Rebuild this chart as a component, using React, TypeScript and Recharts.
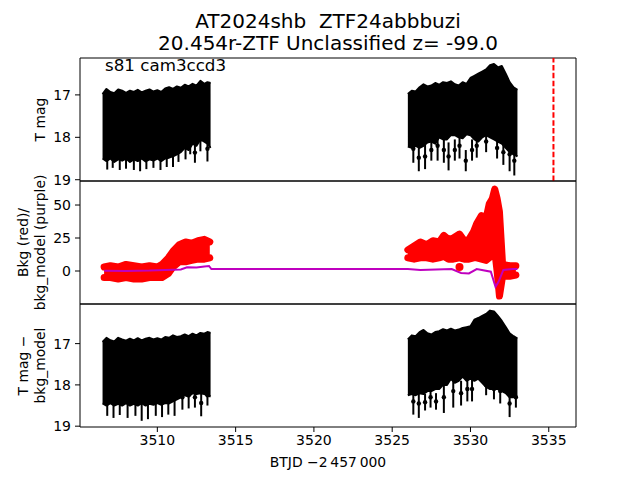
import { ComposedChart, Area, Line, Scatter, ErrorBar, XAxis, YAxis, ReferenceLine, ReferenceArea } from 'recharts';

const FONT = '"DejaVu Sans", sans-serif';

// x axis (BTJD - 2457000)
const X_DOMAIN = [3505.06, 3536.74];
const X_TICKS = [3510, 3515, 3520, 3525, 3530, 3535];
const ALERT_T = 3535.3;

// sampling times of the cloud envelopes (orbit 1 and orbit 2)
const T1 = [3506.5, 3506.75, 3507.0, 3507.25, 3507.5, 3507.75, 3508.0, 3508.25, 3508.5, 3508.75, 3509.0, 3509.25, 3509.5, 3509.75, 3510.0, 3510.25, 3510.5, 3510.75, 3511.0, 3511.25, 3511.5, 3511.75, 3512.0, 3512.25, 3512.5, 3512.75, 3513.0, 3513.2, 3513.4];
const T2 = [3526.0, 3526.25, 3526.5, 3526.75, 3527.0, 3527.25, 3527.5, 3527.75, 3528.0, 3528.25, 3528.5, 3528.75, 3529.0, 3529.25, 3529.5, 3529.75, 3530.0, 3530.25, 3530.5, 3530.75, 3531.0, 3531.25, 3531.5, 3531.75, 3532.0, 3532.25, 3532.5, 3532.75, 3533.0];

// --- top panel: T mag (bright / faint edge of the dense errorbar cloud) ---
const TOP_UP1 = [16.98, 16.86, 16.93, 16.96, 16.87, 16.9, 16.95, 16.9, 16.93, 16.88, 16.94, 16.9, 16.87, 16.92, 16.89, 16.93, 16.85, 16.82, 16.86, 16.8, 16.83, 16.76, 16.8, 16.74, 16.78, 16.67, 16.74, 16.7, 16.72];
const TOP_DN1 = [18.5, 18.56, 18.5, 18.58, 18.52, 18.55, 18.5, 18.58, 18.52, 18.56, 18.5, 18.57, 18.52, 18.55, 18.5, 18.56, 18.5, 18.48, 18.45, 18.4, 18.35, 18.25, 18.3, 18.15, 18.2, 18.05, 18.1, 18.15, 18.25];
const TOP_UP2 = [16.98, 16.9, 16.92, 16.82, 16.75, 16.8, 16.78, 16.72, 16.76, 16.7, 16.72, 16.68, 16.75, 16.78, 16.7, 16.74, 16.6, 16.55, 16.5, 16.45, 16.4, 16.3, 16.27, 16.35, 16.32, 16.5, 16.7, 16.82, 16.88];
const TOP_DN2 = [18.22, 18.25, 18.2, 18.25, 18.2, 18.12, 18.1, 18.15, 18.0, 18.05, 18.05, 17.95, 17.95, 18.0, 18.02, 17.93, 17.95, 18.05, 18.1, 18.0, 17.95, 18.0, 18.05, 18.1, 18.15, 18.25, 18.35, 18.4, 18.45];
// [t, mag, err] faint points poking out below the cloud
const TOP_SPIKES = [
  [3506.8, 18.3, 0.46], [3507.15, 18.3, 0.42], [3507.6, 18.3, 0.47], [3508.0, 18.3, 0.44],
  [3508.5, 18.3, 0.47], [3508.9, 18.3, 0.5], [3509.3, 18.3, 0.45], [3509.75, 18.3, 0.42],
  [3510.2, 18.3, 0.47], [3510.6, 18.3, 0.4], [3511.0, 18.3, 0.4], [3511.35, 18.3, 0.28],
  [3511.8, 18.2, 0.32], [3512.1, 18.1, 0.3], [3512.4, 18.36, 0.24], [3512.75, 18.05, 0.28],
  [3513.2, 18.27, 0.3],
  [3526.35, 18.27, 0.33], [3526.7, 18.48, 0.32], [3527.1, 18.45, 0.3], [3527.5, 18.3, 0.25],
  [3527.9, 18.2, 0.35], [3528.3, 18.3, 0.3], [3528.6, 18.45, 0.33], [3529.0, 18.3, 0.25],
  [3529.3, 18.2, 0.3], [3529.7, 18.55, 0.25], [3530.1, 18.3, 0.25], [3530.4, 18.2, 0.28],
  [3531.0, 18.1, 0.25], [3531.7, 18.25, 0.25], [3532.1, 18.35, 0.3], [3532.5, 18.4, 0.4],
  [3532.8, 18.55, 0.35],
];

// --- middle panel: background flux (red) and model (purple) ---
const BKG_T1 = [3506.6, 3507.0, 3507.5, 3508.0, 3508.5, 3509.0, 3509.5, 3510.0, 3510.3, 3510.7, 3511.0, 3511.4, 3511.8, 3512.2, 3512.6, 3513.0, 3513.35];
const BKG_HI1 = [3, 4, 3, 5, 4, 3, 4, 3, 5, 10, 15, 20, 22, 21, 23, 24, 22];
const BKG_LO1 = [-5, -5, -6, -5, -6, -6, -5, -5, -5, -2, 3, 7, 7, 8, 9, 9, 10];
const BKG_T2 = [3526.0, 3526.4, 3526.8, 3527.2, 3527.6, 3528.0, 3528.3, 3528.6, 3528.9, 3529.3, 3529.6, 3529.9, 3530.2, 3530.4, 3530.7, 3531.0, 3531.2, 3531.4, 3531.55, 3531.7, 3531.85, 3532.05, 3532.5, 3532.9];
const BKG_HI2 = [16, 19, 22, 20, 23, 22, 27, 24, 25, 28, 23, 24, 30, 36, 42, 40, 51, 55, 62, 55, 45, 5, 4, 4];
const BKG_LO2 = [10, 9, 10, 10, 9, 10, 11, 9, 9, 10, 9, 9, 10, 10, 9, 8, 10, 12, 15, 0, -19, -4, -4, -3];
const BKG_STRAY = [[3529.3, 3]];
const MODEL_T = [3506.6, 3508.0, 3509.5, 3510.5, 3511.5, 3511.9, 3512.5, 3513.0, 3513.3, 3513.45, 3526.0, 3526.8, 3527.8, 3528.8, 3529.4, 3529.9, 3530.4, 3531.3, 3531.6, 3531.8, 3532.1, 3532.7, 3533.0];
const MODEL_V = [0.2, 0, 0.3, 0.8, 1.2, 2.8, 2.6, 3.5, 3.8, 1.5, 1.5, 0.8, 1.2, 1.5, -1.5, -1.8, 1.5, -0.5, -12, -8, 0.8, 1.5, 1.5];

// --- bottom panel: T mag - bkg_model ---
const BOT_UP1 = [16.96, 16.86, 16.92, 16.95, 16.86, 16.9, 16.93, 16.88, 16.92, 16.87, 16.92, 16.88, 16.86, 16.9, 16.87, 16.9, 16.84, 16.86, 16.8, 16.84, 16.82, 16.78, 16.82, 16.76, 16.8, 16.74, 16.76, 16.72, 16.74];
const BOT_DN1 = [18.45, 18.5, 18.44, 18.5, 18.46, 18.5, 18.44, 18.5, 18.46, 18.5, 18.44, 18.5, 18.46, 18.48, 18.44, 18.48, 18.44, 18.45, 18.4, 18.35, 18.3, 18.25, 18.28, 18.2, 18.22, 18.2, 18.22, 18.25, 18.28];
const BOT_UP2 = [16.9, 16.8, 16.82, 16.72, 16.67, 16.75, 16.78, 16.72, 16.7, 16.65, 16.68, 16.64, 16.68, 16.66, 16.62, 16.6, 16.58, 16.42, 16.38, 16.33, 16.28, 16.2, 16.22, 16.33, 16.45, 16.6, 16.75, 16.82, 16.88];
const BOT_DN2 = [18.25, 18.22, 18.25, 18.2, 18.22, 18.15, 18.15, 18.1, 18.1, 18.0, 18.0, 17.85, 17.95, 17.9, 17.8, 17.9, 17.85, 17.9, 17.85, 17.95, 18.05, 18.1, 18.1, 18.1, 18.15, 18.2, 18.3, 18.3, 18.3];
const BOT_SPIKES = [
  [3506.8, 18.25, 0.5], [3507.2, 18.25, 0.55], [3507.6, 18.25, 0.48], [3508.1, 18.25, 0.55],
  [3508.6, 18.25, 0.5], [3509.0, 18.25, 0.62], [3509.4, 18.25, 0.58], [3509.9, 18.25, 0.5],
  [3510.3, 18.25, 0.53], [3510.7, 18.25, 0.47], [3511.1, 18.25, 0.5], [3511.6, 18.3, 0.3],
  [3512.0, 18.25, 0.32], [3512.4, 18.3, 0.25], [3512.8, 18.44, 0.32], [3513.2, 18.25, 0.25],
  [3526.35, 18.4, 0.32], [3526.7, 18.45, 0.35], [3527.1, 18.42, 0.2], [3527.45, 18.3, 0.25],
  [3527.8, 18.4, 0.2], [3528.3, 18.3, 0.38], [3528.9, 18.15, 0.4], [3529.4, 18.2, 0.3],
  [3529.8, 18.1, 0.3], [3530.1, 18.1, 0.3], [3531.0, 18.0, 0.25], [3531.5, 18.1, 0.25],
  [3531.9, 18.15, 0.3], [3532.5, 18.45, 0.33], [3532.9, 18.3, 0.25],
];

const TOP_DOMAIN = [16.13, 19.03];
const BKG_DOMAIN = [-25, 68.2];
const BOT_DOMAIN = [16.04, 19.02];

const toRange = (t: number[], a: number[], b: number[]) => t.map((x, i) => ({ t: x, m: [a[i], b[i]] }));
const toPoints = (list: number[][]) => list.map(([t, m, e]) => ({ t, m, e: e ?? 0 }));
const toLine = (t: number[], v: number[]) => t.map((x, i) => ({ t: x, m: v[i] }));

const tickStyle = { fill: '#000', fontSize: 14, fontFamily: FONT };
const dotBlack = (p: any) => <circle cx={p.cx} cy={p.cy} r={2.2} fill="#000" />;
const dotRed = (p: any) => <circle cx={p.cx} cy={p.cy} r={4} fill="#ff0000" />;

function Frame({ y }: { y: number[] }) {
  return (
    <ReferenceArea x1={X_DOMAIN[0]} x2={X_DOMAIN[1]} y1={y[0]} y2={y[1]} fill="none" stroke="#000" strokeWidth={1} ifOverflow="visible" />
  );
}

function yAxis(domain: number[], ticks: number[], reversed: boolean) {
  return (
    <YAxis
      dataKey="m"
      type="number"
      domain={domain}
      ticks={ticks}
      reversed={reversed}
      allowDataOverflow
      width={40}
      axisLine={false}
      tickLine={{ stroke: '#000' }}
      tickSize={5}
      tickMargin={4}
      tick={tickStyle}
    />
  );
}

export default function App() {
  const cloud = (data: any[]) => (
    <Area
      data={data}
      dataKey="m"
      type="linear"
      fill="#000"
      fillOpacity={1}
      stroke="#000"
      strokeWidth={2}
      strokeLinejoin="round"
      isAnimationActive={false}
      dot={false}
      activeDot={false}
    />
  );
  const bkg = (data: any[]) => (
    <Area
      data={data}
      dataKey="m"
      type="linear"
      fill="#ff0000"
      fillOpacity={1}
      stroke="#ff0000"
      strokeWidth={7}
      strokeLinejoin="round"
      strokeLinecap="round"
      isAnimationActive={false}
      dot={false}
      activeDot={false}
    />
  );
  const spikes = (data: any[]) => (
    <Scatter data={data} dataKey="m" shape={dotBlack} isAnimationActive={false}>
      <ErrorBar dataKey="e" direction="y" width={0} stroke="#000" strokeWidth={2} />
    </Scatter>
  );
  const xHidden = <XAxis dataKey="t" type="number" domain={X_DOMAIN} allowDataOverflow hide />;

  return (
    <div style={{ position: 'absolute', left: 0, top: 0, width: 640, height: 480, background: '#fff', fontFamily: FONT }}>
      <div style={{ position: 'absolute', left: 0, top: 0 }}>
        <ComposedChart width={640} height={191} margin={{ top: 58, right: 64, left: 40, bottom: 10 }}>
          {xHidden}
          {yAxis(TOP_DOMAIN, [17, 18, 19], true)}
          {cloud(toRange(T1, TOP_UP1, TOP_DN1))}
          {cloud(toRange(T2, TOP_UP2, TOP_DN2))}
          {spikes(toPoints(TOP_SPIKES))}
          <ReferenceLine x={ALERT_T} stroke="#ff0000" strokeWidth={2} strokeDasharray="5.5 2.4" />
          <Frame y={TOP_DOMAIN} />
        </ComposedChart>
      </div>
      <div style={{ position: 'absolute', left: 0, top: 171 }}>
        <ComposedChart width={640} height={143} margin={{ top: 10, right: 64, left: 40, bottom: 10 }}>
          {xHidden}
          {yAxis(BKG_DOMAIN, [0, 25, 50], false)}
          {bkg(toRange(BKG_T1, BKG_LO1, BKG_HI1))}
          {bkg(toRange(BKG_T2, BKG_LO2, BKG_HI2))}
          <Scatter data={toPoints(BKG_STRAY)} dataKey="m" shape={dotRed} isAnimationActive={false} />
          <Line data={toLine(MODEL_T, MODEL_V)} dataKey="m" type="linear" stroke="#bf00bf" strokeWidth={2} dot={false} activeDot={false} isAnimationActive={false} />
          <Frame y={BKG_DOMAIN} />
        </ComposedChart>
      </div>
      <div style={{ position: 'absolute', left: 0, top: 294 }}>
        <ComposedChart width={640} height={186} margin={{ top: 10, right: 64, left: 40, bottom: 23 }}>
          <XAxis
            dataKey="t"
            type="number"
            domain={X_DOMAIN}
            ticks={X_TICKS}
            allowDataOverflow
            height={30}
            axisLine={false}
            tickLine={{ stroke: '#000' }}
            tickSize={5}
            tickMargin={3}
            tick={tickStyle}
          />
          {yAxis(BOT_DOMAIN, [17, 18, 19], true)}
          {cloud(toRange(T1, BOT_UP1, BOT_DN1))}
          {cloud(toRange(T2, BOT_UP2, BOT_DN2))}
          {spikes(toPoints(BOT_SPIKES))}
          <Frame y={BOT_DOMAIN} />
        </ComposedChart>
      </div>
      <svg width={640} height={480} style={{ position: 'absolute', left: 0, top: 0, pointerEvents: 'none' }} fontFamily={FONT} fill="#000">
        <text x={328} y={27.5} fontSize={20} textAnchor="middle" style={{ whiteSpace: 'pre' }}>AT2024shb  ZTF24abbbuzi</text>
        <text x={328} y={50} fontSize={20} textAnchor="middle">20.454r-ZTF Unclassified z= -99.0</text>
        <text x={105} y={70.5} fontSize={16.7}>s81 cam3ccd3</text>
        <text x={328} y={467} fontSize={13.9} textAnchor="middle">BTJD −2{'\u2009'}457{'\u2009'}000</text>
        <text x={40} y={119.5} fontSize={13.9} textAnchor="middle" dominantBaseline="central" transform="rotate(-90 40 119.5)">T mag</text>
        <text x={23} y={242.5} fontSize={13.9} textAnchor="middle" dominantBaseline="central" transform="rotate(-90 23 242.5)">Bkg (red)/</text>
        <text x={39.5} y={242.5} fontSize={13.9} textAnchor="middle" dominantBaseline="central" transform="rotate(-90 39.5 242.5)">bkg_model (purple)</text>
        <text x={23} y={365.5} fontSize={13.9} textAnchor="middle" dominantBaseline="central" transform="rotate(-90 23 365.5)">T mag −</text>
        <text x={39.5} y={365.5} fontSize={13.9} textAnchor="middle" dominantBaseline="central" transform="rotate(-90 39.5 365.5)">bkg_model</text>
      </svg>
    </div>
  );
}
